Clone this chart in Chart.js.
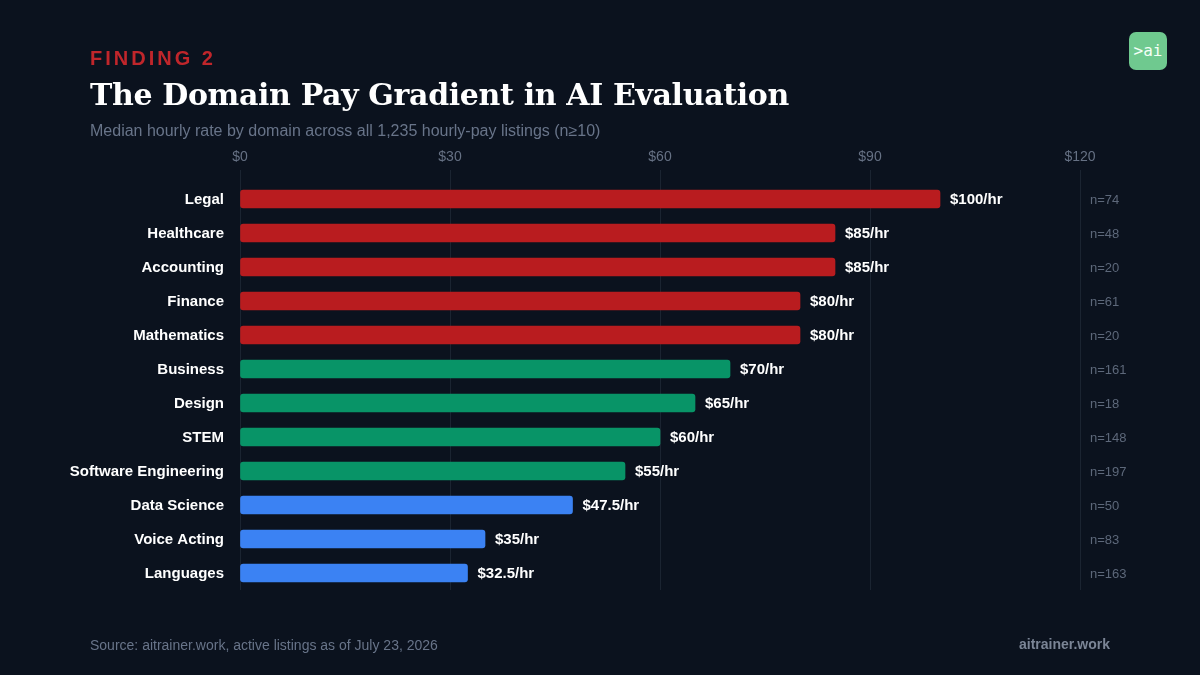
<!DOCTYPE html>
<html>
<head>
<meta charset="utf-8">
<script src="https://cdn.jsdelivr.net/npm/chart.js@4"></script>
<style>
  html, body { margin: 0; padding: 0; background: #0b121e; }
  #wrap { position: relative; width: 1200px; height: 675px; overflow: hidden; font-family: "Liberation Sans", Arial, sans-serif; }
  #chart { position: absolute; left: 0; top: 0; }
  .kicker { position: absolute; left: 90px; top: 47px; color: #c0262b; font-weight: bold; font-size: 20px; letter-spacing: 3px; }
  .title { position: absolute; left: 90px; top: 77px; color: #ffffff; font-family: "DejaVu Serif", Georgia, serif; font-weight: bold; font-size: 30px; letter-spacing: -0.35px; }
  .sub { position: absolute; left: 90px; top: 122px; color: #687489; font-size: 16px; }
  .source { position: absolute; left: 90px; top: 637px; color: #687489; font-size: 14px; }
  .brand { position: absolute; right: 90px; top: 636px; color: #7b8596; font-size: 14px; font-weight: bold; }
  .logo { position: absolute; left: 1129px; top: 32px; width: 38px; height: 38px; border-radius: 7px; background: #6fc98f; color: #f4fff6; font-family: "DejaVu Sans Mono", monospace; font-size: 16px; line-height: 38px; text-align: center; }
</style>
</head>
<body>
<div id="wrap">
  <canvas id="chart" width="1200" height="675"></canvas>
  <div class="kicker">FINDING 2</div>
  <div class="title">The Domain Pay Gradient in AI Evaluation</div>
  <div class="sub">Median hourly rate by domain across all 1,235 hourly-pay listings (n≥10)</div>
  <div class="source">Source: aitrainer.work, active listings as of July 23, 2026</div>
  <div class="brand">aitrainer.work</div>
  <div class="logo">&gt;ai</div>
</div>
<script>
const domains = ['Legal', 'Healthcare', 'Accounting', 'Finance', 'Mathematics', 'Business', 'Design', 'STEM', 'Software Engineering', 'Data Science', 'Voice Acting', 'Languages']
const medianRate = [100, 85, 85, 80, 80, 70, 65, 60, 55, 47.5, 35, 32.5]
const listingCount = [74, 48, 20, 61, 20, 161, 18, 148, 197, 50, 83, 163]
const tier = ['high', 'high', 'high', 'high', 'high', 'mid', 'mid', 'mid', 'mid', 'low', 'low', 'low']
const xTicks = [0, 30, 60, 90, 120]

const tierColors = { high: '#b91c1f', mid: '#089467', low: '#3b82f3' }

// value labels at the bar ends and n= counts on the right
const labelsPlugin = {
    id: 'barLabels',
    afterDatasetsDraw(chart) {
        let ctx = chart.ctx
        let meta = chart.getDatasetMeta(0)
        let x = chart.scales.x
        ctx.save()
        ctx.textBaseline = 'middle'
        meta.data.forEach((bar, i) => {
            ctx.font = 'bold 15px "Liberation Sans", Arial, sans-serif'
            ctx.fillStyle = '#ffffff'
            ctx.textAlign = 'left'
            ctx.fillText('$' + medianRate[i] + '/hr', bar.x + 10, bar.y + 1)
            ctx.font = '13px "Liberation Sans", Arial, sans-serif'
            ctx.fillStyle = '#5d687a'
            ctx.fillText('n=' + listingCount[i], x.getPixelForValue(120) + 10, bar.y + 1)
        })
        ctx.restore()
    }
}

function payChart(id) {
    const data = {
        labels: domains,
        datasets: [{
            data: medianRate,
            backgroundColor: tier.map(t => tierColors[t]),
            borderRadius: 3,
            borderSkipped: false,
            barThickness: 18
        }]
    }
    const config = {
        type: 'bar',
        data: data,
        options: {
            indexAxis: 'y',
            responsive: false,
            animation: false,
            layout: { padding: { left: 0, right: 120, top: 0, bottom: 85 } },
            plugins: { legend: { display: false }, tooltip: { enabled: false } },
            scales: {
                x: {
                    position: 'top',
                    min: 0,
                    max: 120,
                    afterBuildTicks: s => { s.ticks = xTicks.map(v => ({ value: v })) },
                    afterFit: s => { s.height = 182 },
                    border: { display: false },
                    grid: { color: '#1b2431', lineWidth: 1, tickLength: 12, drawTicks: true, tickColor: '#1b2431' },
                    ticks: {
                        color: '#667184',
                        padding: 4,
                        font: { size: 14, family: '"Liberation Sans", Arial, sans-serif' },
                        callback: v => '$' + v
                    }
                },
                y: {
                    afterFit: s => { s.width = 240 },
                    border: { display: false },
                    grid: { display: false },
                    ticks: {
                        color: '#ffffff',
                        padding: 8,
                        labelOffset: 1,
                        font: { size: 15, weight: 'bold', family: '"Liberation Sans", Arial, sans-serif' }
                    }
                }
            }
        },
        plugins: [labelsPlugin]
    }
    let ctx = document.getElementById(id).getContext('2d')
    new Chart(ctx, config)
}

payChart('chart')
</script>
</body>
</html>
